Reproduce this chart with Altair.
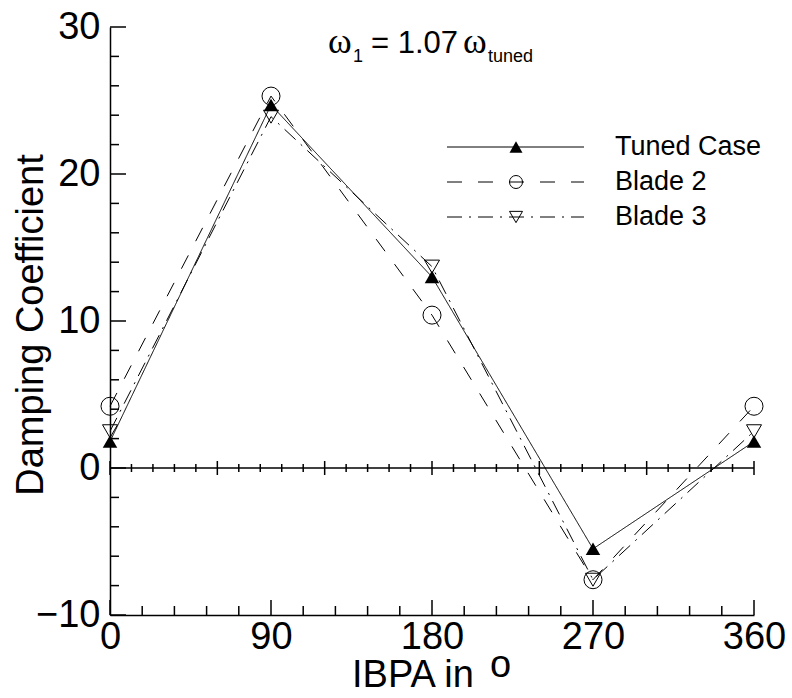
import altair as alt
import pandas as pd

# IBPA stations (degrees) and damping coefficient per case
ibpa = [0, 90, 180, 270, 360]
tuned = [1.8, 24.7, 13.0, -5.5, 1.8]
blade2 = [4.2, 25.3, 10.4, -7.6, 4.2]
blade3 = [2.5, 23.9, 13.7, -7.6, 2.5]

series = ["Tuned Case", "Blade 2", "Blade 3"]
values = [tuned, blade2, blade3]
shapes = ["triangle-up", "circle", "triangle-down"]
filled = [True, False, False]
sizes = [210, 324, 225]
dashes = [[1, 0], [15, 16], [15, 7, 2, 7]]

x_labels = [0, 90, 180, 270, 360]
y_labels = [-10, 0, 10, 20, 30]

FONT = "Liberation Sans"
W, H = 644, 588

xs = alt.Scale(domain=[0, 360], nice=False, zero=False)
ys = alt.Scale(domain=[-10, 30], nice=False, zero=False)
x_axis = alt.Axis(values=x_labels, title=None, grid=False, ticks=False, tickSize=0,
                  domain=True, domainColor="black", domainWidth=1.5,
                  labelFont=FONT, labelFontSize=38, labelColor="black",
                  labelPadding=3, labelFlush=False, labelOverlap=False)
y_axis = alt.Axis(values=y_labels, title=None, grid=False, ticks=False, tickSize=0,
                  domain=True, domainColor="black", domainWidth=1.5,
                  labelFont=FONT, labelFontSize=38, labelColor="black",
                  labelPadding=10, labelOverlap=False)


def X(field):
    return alt.X(field, type="quantitative", scale=xs, axis=x_axis)


def Y(field):
    return alt.Y(field, type="quantitative", scale=ys, axis=y_axis)


layers = []

# curves and symbols
for name, vals, shp, fl, sz, dash in zip(series, values, shapes, filled, sizes, dashes):
    df = pd.DataFrame({"x": ibpa, "y": vals, "series": name})
    layers.append(
        alt.Chart(df).mark_line(color="black", strokeWidth=1, strokeDash=dash)
        .encode(x=X("x"), y=Y("y"), order="x:Q")
    )
for name, vals, shp, fl, sz, dash in zip(series, values, shapes, filled, sizes, dashes):
    df = pd.DataFrame({"x": ibpa, "y": vals, "series": name})
    layers.append(
        alt.Chart(df).mark_point(shape=shp, filled=fl, size=sz, color="black",
                                 strokeWidth=1, opacity=1)
        .encode(x=X("x"), y=Y("y"))
    )

# tick marks drawn inward on the left and bottom axes
y_major = pd.DataFrame({"y": list(range(-10, 31, 10))})
y_minor = pd.DataFrame({"y": [v for v in range(-10, 31, 2) if v % 10]})
x_major = pd.DataFrame({"x": list(range(0, 361, 90))})
x_minor = pd.DataFrame({"x": [v for v in range(0, 361, 18) if v % 90]})
z_major = pd.DataFrame({"x": list(range(0, 361, 60))})
z_minor = pd.DataFrame({"x": [v for v in range(0, 361, 12) if v % 60]})

layers.append(alt.Chart(y_major).mark_tick(orient="horizontal", size=16, thickness=1.5,
                                           xOffset=8, color="black", opacity=1)
              .encode(y=Y("y"), x=alt.datum(0, scale=xs, axis=x_axis)))
layers.append(alt.Chart(y_minor).mark_tick(orient="horizontal", size=9, thickness=1.5,
                                           xOffset=4.5, color="black", opacity=1)
              .encode(y=Y("y"), x=alt.datum(0, scale=xs, axis=x_axis)))
layers.append(alt.Chart(x_major).mark_tick(orient="vertical", size=15, thickness=1.5,
                                           yOffset=-7.5, color="black", opacity=1)
              .encode(x=X("x"), y=alt.datum(-10, scale=ys, axis=y_axis)))
layers.append(alt.Chart(x_minor).mark_tick(orient="vertical", size=9, thickness=1.5,
                                           yOffset=-4.5, color="black", opacity=1)
              .encode(x=X("x"), y=alt.datum(-10, scale=ys, axis=y_axis)))

# zero line with centred ticks
zero = pd.DataFrame({"x": [0], "x2": [360], "y": [0]})
layers.append(alt.Chart(zero).mark_rule(color="black", strokeWidth=1.5)
              .encode(x=X("x"), x2="x2", y=Y("y")))
layers.append(alt.Chart(z_major).mark_tick(orient="vertical", size=14, thickness=1.5,
                                           color="black", opacity=1)
              .encode(x=X("x"), y=alt.datum(0, scale=ys, axis=y_axis)))
layers.append(alt.Chart(z_minor).mark_tick(orient="vertical", size=8, thickness=1.5,
                                           color="black", opacity=1)
              .encode(x=X("x"), y=alt.datum(0, scale=ys, axis=y_axis)))

# legend
leg_y = [120, 155, 190]
leg_sizes = [169, 169, 169]
for name, shp, fl, dash, ly, ls in zip(series, shapes, filled, dashes, leg_y, leg_sizes):
    layers.append(alt.Chart(zero).mark_rule(color="black", strokeWidth=1, strokeDash=dash)
                  .encode(x=alt.value(337), x2=alt.value(474), y=alt.value(ly)))
    layers.append(alt.Chart(zero).mark_point(shape=shp, filled=fl, size=ls, color="black",
                                             strokeWidth=1, opacity=1)
                  .encode(x=alt.value(406), y=alt.value(ly)))
    layers.append(alt.Chart(zero).mark_text(align="left", baseline="middle", font=FONT,
                                            fontSize=27, color="black")
                  .encode(x=alt.value(505), y=alt.value(ly), text=alt.value(name)))


def label(txt, x, y, size, font=FONT, **kw):
    return (alt.Chart(zero).mark_text(align="left", baseline="alphabetic", font=font,
                                      fontSize=size, color="black", **kw)
            .encode(x=alt.value(x), y=alt.value(y), text=alt.value(txt)))


# heading: omega_1 = 1.07 omega_tuned
layers.append(label("ω", 218, 26, 36, font="Liberation Serif"))
layers.append(label("1", 243, 35, 18))
layers.append(label("= 1.07", 261, 26, 31))
layers.append(label("ω", 353, 26, 36, font="Liberation Serif"))
layers.append(label("tuned", 378, 35, 18))

# axis titles
layers.append(label("IBPA in", 242, 660, 38))
layers.append(label("o", 380, 650, 38))
layers.append(alt.Chart(zero).mark_text(align="center", baseline="alphabetic", angle=270,
                                        font=FONT, fontSize=38, color="black")
              .encode(x=alt.value(-67), y=alt.value(298),
                      text=alt.value("Damping Coefficient")))

chart = alt.layer(*layers).properties(
    width=W, height=H,
    autosize=alt.AutoSizeParams(type="none"),
    padding={"left": 110, "top": 27, "right": 38, "bottom": 83},
    background="white",
).configure_view(stroke=None)

chart.save("out.html", embed_options={"renderer": "svg", "actions": False})
